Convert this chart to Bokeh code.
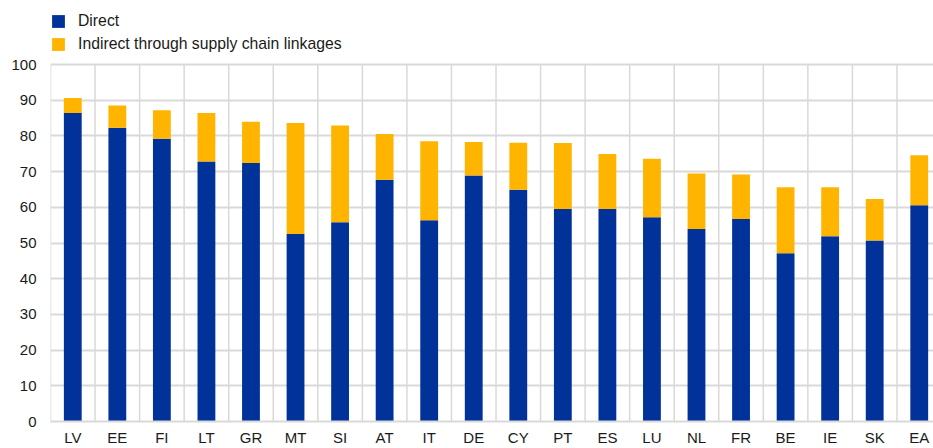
from bokeh.plotting import figure
from bokeh.models import ColumnDataSource, Range1d, FixedTicker, Legend, LegendItem
from bokeh.embed import file_html
from bokeh.resources import INLINE

countries = ["LV", "EE", "FI", "LT", "GR", "MT", "SI", "AT", "IT", "DE",
             "CY", "PT", "ES", "LU", "NL", "FR", "BE", "IE", "SK", "EA"]
direct = [86.4, 82.3, 79.2, 72.8, 72.4, 52.5, 55.8, 67.7, 56.4, 68.9,
          64.9, 59.5, 59.5, 57.2, 53.9, 56.7, 47.1, 51.9, 50.7, 60.6]
total = [90.6, 88.5, 87.2, 86.4, 84.0, 83.6, 82.9, 80.5, 78.5, 78.3,
         78.1, 78.0, 74.9, 73.6, 69.5, 69.2, 65.6, 65.6, 62.3, 74.6]
y_ticks = [0, 10, 20, 30, 40, 50, 60, 70, 80, 90, 100]

n = len(countries)
xpos = [i + 0.5 for i in range(n)]
bounds = list(range(n + 1))
src = ColumnDataSource(dict(x=xpos, direct=direct, total=total, zero=[0] * n))
grid_src = ColumnDataSource(dict(x=bounds, y0=[y_ticks[0]] * len(bounds),
                                 y1=[y_ticks[-1]] * len(bounds)))

BLUE = "#003299"
YELLOW = "#FFB400"
FONT = "Liberation Sans"
TXT = "#1a1a1a"
GRID = "#d9d9d9"

# frame spans the full height above the axis; 100 sits 64px below the top
p = figure(width=933, height=448, output_backend="svg", toolbar_location=None,
           x_range=Range1d(0, 19.82), y_range=Range1d(0, 117.93))
p.min_border_left = 50
p.min_border_right = 0
p.min_border_top = 0
p.min_border_bottom = 27
p.outline_line_color = None
p.background_fill_color = "white"
p.border_fill_color = "white"

# vertical separators between categories, from 0 to 100
p.segment(x0="x", y0="y0", x1="x", y1="y1", source=grid_src,
          line_color=GRID, line_width=1.5)

r1 = p.vbar(x="x", bottom="zero", top="direct", width=0.4, source=src,
            fill_color=BLUE, line_color=None)
r2 = p.vbar(x="x", bottom="direct", top="total", width=0.4, source=src,
            fill_color=YELLOW, line_color=None)

p.xaxis.ticker = FixedTicker(ticks=xpos)
p.xaxis.major_label_overrides = {x: c for x, c in zip(xpos, countries)}
p.xaxis.major_tick_line_color = None
p.xaxis.major_tick_out = 0
p.xaxis.major_tick_in = 0
p.xaxis.minor_tick_line_color = None
p.xaxis.axis_line_color = GRID
p.xaxis.axis_line_width = 2
p.xaxis.major_label_standoff = 7
p.xaxis.major_label_text_font = FONT
p.xaxis.major_label_text_font_size = "15px"
p.xaxis.major_label_text_color = TXT
p.xgrid.grid_line_color = None

p.yaxis.ticker = FixedTicker(ticks=y_ticks)
p.yaxis.axis_line_color = None
p.yaxis.major_tick_line_color = None
p.yaxis.major_tick_out = 0
p.yaxis.major_tick_in = 0
p.yaxis.minor_tick_line_color = None
p.yaxis.major_label_standoff = 14
p.yaxis.major_label_text_font = FONT
p.yaxis.major_label_text_font_size = "15px"
p.yaxis.major_label_text_color = TXT
p.ygrid.grid_line_color = GRID
p.ygrid.grid_line_width = 2

legend = Legend(items=[LegendItem(label="Direct", renderers=[r1]),
                       LegendItem(label="Indirect through supply chain linkages", renderers=[r2])],
                location=(0, 366), orientation="vertical")
legend.glyph_width = 16
legend.glyph_height = 16
legend.label_height = 22
legend.label_standoff = 12
legend.spacing = 1
legend.padding = 0
legend.margin = 0
legend.border_line_color = None
legend.background_fill_alpha = 0
legend.label_text_font = FONT
legend.label_text_font_size = "15.75px"
legend.label_text_color = TXT
p.add_layout(legend, "center")

open("out.html", "w").write(file_html(p, INLINE))
